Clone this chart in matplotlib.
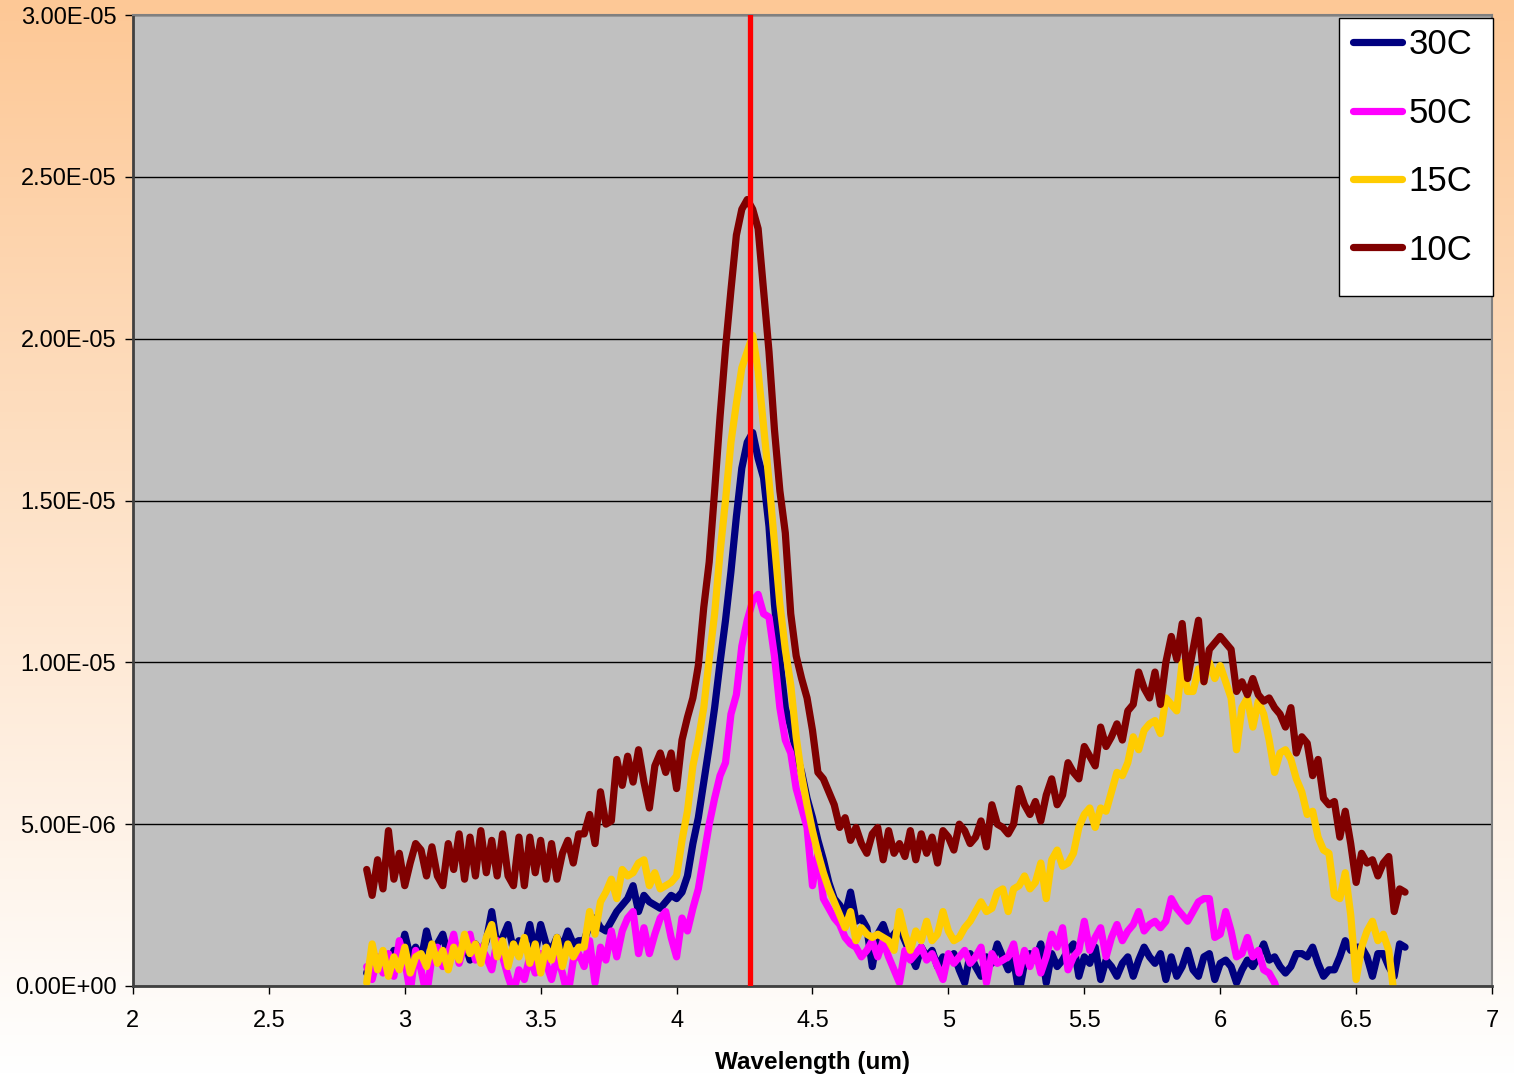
import numpy as np
import matplotlib
matplotlib.use("Agg")
import matplotlib.pyplot as plt
from matplotlib.patches import Rectangle
from matplotlib.lines import Line2D

plt.rcParams["font.family"] = ["Liberation Sans", "DejaVu Sans"]

# wavelength grid (um), 0.02 um steps from 2.86 to 6.68
wavelength = np.round(2.86 + 0.02 * np.arange(192), 2)

# signal values in units of 1e-6 (rows of 0.2 um)
t30 = [
    0.4, 0.9, 0.6, 1.0, 0.7, 1.1, 0.8, 1.6, 0.9, 1.2,
    0.8, 1.7, 1.0, 1.3, 1.6, 0.9, 1.2, 1.0, 1.4, 0.8,
    1.3, 1.0, 1.4, 2.3, 1.2, 1.5, 1.9, 1.1, 1.4, 1.2,
    1.9, 1.0, 1.9, 1.3, 1.1, 1.5, 1.2, 1.7, 1.3, 1.4,
    1.4, 1.9, 2.1, 1.8, 1.7, 2.0, 2.3, 2.5, 2.7, 3.1,
    2.3, 2.8, 2.6, 2.5, 2.4, 2.6, 2.8, 2.7, 2.9, 3.4,
    4.4, 5.2, 6.3, 7.4, 8.6, 10.0, 11.3, 12.8, 14.5, 16.0,
    16.8, 17.1, 16.3, 15.7, 14.2, 11.8, 10.1, 8.6, 8.0, 7.2,
    6.6, 5.8, 5.2, 4.5, 3.9, 3.2, 2.7, 2.5, 2.2, 2.9,
    2.0, 2.1, 1.8, 0.6, 1.6, 1.9, 1.4, 1.6, 1.8, 1.4,
    1.0, 0.6, 1.2, 0.9, 1.1, 0.6, 0.9, 0.8, 1.0, 0.5,
    0.1, 1.0, 0.6, 0.3, 0.9, 0.7, 1.3, 0.9, 0.5, 0.8,
    -0.2, 0.7, 1.0, 0.8, 1.3, 0.1, 1.0, 0.6, 0.8, 1.1,
    1.3, 0.3, 0.9, 0.7, 1.2, 0.2, 0.8, 0.6, 0.3, 0.7,
    0.9, 0.3, 0.8, 1.2, 0.9, 0.7, 1.0, 0.2, 0.9, 0.3,
    0.6, 1.1, 0.5, 0.3, 0.9, 1.0, 0.2, 0.7, 0.8, 0.6,
    0.1, 0.5, 0.8, 0.6, 0.9, 1.3, 0.8, 0.9, 0.6, 0.4,
    0.6, 1.0, 1.0, 0.9, 1.2, 0.7, 0.3, 0.5, 0.5, 0.9,
    1.4, 1.1, 1.2, 1.2, 0.9, 0.3, 1.0, 1.0, 0.6, 0.3,
    1.3, 1.2,
]
t50 = [
    0.6, 0.2, 0.9, 0.4, 1.0, 0.3, 1.4, 0.8, -0.2, 1.1,
    0.5, -0.3, 0.9, 1.2, 0.6, 1.0, 1.6, 0.7, 1.3, 1.6,
    0.8, 1.2, 0.9, 0.5, 1.4, 0.9, 0.3, -0.2, 0.5, 0.2,
    0.9, 0.4, 1.0, 0.7, 0.2, 0.9, 0.4, -0.3, 0.8, 1.0,
    0.6, 1.4, 0.1, 1.2, 0.8, 1.7, 0.9, 1.7, 2.1, 2.3,
    1.0, 1.8, 1.0, 1.6, 2.1, 2.3, 1.5, 0.9, 2.1, 1.7,
    2.4, 3.0, 4.0, 5.0, 5.8, 6.5, 6.9, 8.4, 9.0, 10.5,
    11.3, 11.9, 12.1, 11.5, 11.4, 10.2, 8.6, 7.6, 7.2, 6.1,
    5.5, 4.9, 3.1, 4.1, 2.7, 2.4, 2.1, 1.9, 1.5, 1.3,
    1.2, 0.9, 1.1, 1.4, 0.9, 1.4, 0.9, 0.5, 0.1, 1.1,
    0.8, 1.0, 1.2, 0.8, 1.0, 0.6, 0.2, 1.0, 0.7, 0.9,
    1.1, 0.7, 0.9, 1.2, 0.1, 1.0, 0.7, 0.8, 0.9, 1.3,
    0.4, 1.1, 0.6, 1.1, 0.4, 0.9, 1.6, 1.2, 1.8, 0.5,
    0.9, 1.1, 2.0, 1.1, 1.5, 1.8, 0.9, 1.5, 1.9, 1.4,
    1.7, 1.9, 2.3, 1.7, 1.9, 2.0, 1.8, 2.0, 2.7, 2.4,
    2.2, 2.0, 2.3, 2.6, 2.7, 2.7, 1.5, 1.6, 2.3, 1.7,
    0.9, 1.0, 1.5, 0.9, 1.1, 0.5, 0.4, 0.1, -0.4, -0.8,
    -1.0, -1.2, -1.1, -1.4, -1.3, -1.5, -1.2, -1.6, -1.4, -1.5,
    -1.6, -1.4, -1.7, -1.5, -1.6, -1.8, -1.5, -1.7, -1.6, -1.8,
    -1.7, -1.8,
]
t15 = [
    0.1, 1.3, 0.5, 1.1, 0.3, 0.9, 0.5, 1.2, 0.4, 0.9,
    1.0, 0.6, 1.3, 0.7, 1.1, 0.5, 1.2, 0.8, 1.6, 1.0,
    1.3, 0.7, 1.5, 1.9, 0.9, 1.4, 0.6, 1.3, 0.9, 1.5,
    0.7, 1.3, 0.4, 1.2, 0.8, 1.5, 0.6, 1.3, 0.9, 1.2,
    1.2, 2.3, 1.6, 2.6, 2.9, 3.3, 2.7, 3.6, 3.4, 3.5,
    3.8, 3.9, 3.1, 3.5, 3.0, 3.1, 3.2, 3.4, 4.5, 5.4,
    6.8, 7.6, 8.6, 10.1, 11.5, 13.4, 15.0, 16.8, 18.0, 19.1,
    19.6, 20.1, 19.0, 17.3, 15.6, 13.7, 11.8, 10.4, 9.3, 7.7,
    6.5, 5.6, 4.8, 4.1, 3.5, 3.0, 2.6, 2.2, 1.8, 2.3,
    1.4, 1.8, 1.6, 1.5, 1.6, 1.5, 1.4, 1.1, 2.3, 1.6,
    1.1, 1.7, 1.4, 2.0, 1.4, 1.6, 2.3, 1.7, 1.4, 1.5,
    1.8, 2.0, 2.3, 2.6, 2.3, 2.4, 2.9, 3.0, 2.3, 3.0,
    3.1, 3.4, 3.0, 3.2, 3.8, 2.7, 3.9, 4.2, 3.7, 3.8,
    4.1, 4.9, 5.3, 5.5, 4.9, 5.5, 5.4, 6.0, 6.6, 6.5,
    6.9, 7.7, 7.3, 7.9, 8.1, 8.2, 7.8, 8.9, 8.7, 8.5,
    10.0, 9.1, 9.1, 9.8, 9.4, 10.0, 9.5, 9.9, 9.4, 8.9,
    7.3, 8.6, 8.9, 8.0, 8.8, 8.4, 7.6, 6.6, 7.2, 7.3,
    7.0, 6.4, 6.0, 5.3, 5.4, 4.6, 4.2, 4.1, 2.8, 2.7,
    3.5, 2.2, 0.2, 1.2, 1.7, 2.0, 1.4, 1.6, 1.1, -0.3,
    -0.8, -1.0,
]
t10 = [
    3.6, 2.8, 3.9, 3.0, 4.8, 3.3, 4.1, 3.1, 3.8, 4.4,
    4.2, 3.4, 4.3, 3.4, 3.1, 4.4, 3.6, 4.7, 3.3, 4.6,
    3.4, 4.8, 3.5, 4.5, 3.4, 4.7, 3.4, 3.1, 4.6, 3.1,
    4.6, 3.5, 4.5, 3.3, 4.4, 3.3, 4.1, 4.5, 3.8, 4.7,
    4.7, 5.3, 4.4, 6.0, 5.0, 5.1, 7.0, 6.2, 7.1, 6.3,
    7.3, 6.3, 5.5, 6.8, 7.2, 6.6, 7.2, 6.1, 7.6, 8.3,
    8.9, 9.9, 11.7, 13.1, 15.3, 17.6, 19.7, 21.5, 23.2, 24.0,
    24.3, 24.0, 23.4, 21.5, 19.6, 17.2, 15.3, 14.0, 11.5, 10.2,
    9.5, 8.9, 7.9, 6.6, 6.4, 6.0, 5.6, 4.9, 5.2, 4.5,
    4.9, 4.4, 4.1, 4.7, 4.9, 3.9, 4.8, 4.1, 4.4, 4.0,
    4.8, 3.9, 4.7, 4.1, 4.6, 3.8, 4.8, 4.6, 4.2, 5.0,
    4.8, 4.4, 4.6, 5.1, 4.3, 5.6, 5.0, 4.9, 4.7, 5.0,
    6.1, 5.6, 5.3, 5.7, 5.1, 5.9, 6.4, 5.6, 5.9, 6.9,
    6.6, 6.4, 7.4, 7.1, 6.8, 8.0, 7.4, 7.7, 8.1, 7.6,
    8.5, 8.7, 9.7, 9.2, 8.9, 9.7, 8.7, 10.0, 10.8, 10.1,
    11.2, 9.5, 10.4, 11.3, 9.4, 10.4, 10.6, 10.8, 10.6, 10.4,
    9.1, 9.4, 9.0, 9.5, 9.0, 8.8, 8.9, 8.6, 8.4, 8.0,
    8.6, 7.2, 7.7, 7.5, 6.5, 7.0, 5.8, 5.6, 5.7, 4.6,
    5.4, 4.4, 3.2, 4.1, 3.8, 3.9, 3.4, 3.8, 4.0, 2.3,
    3.0, 2.9,
]

labels = ["30C", "50C", "15C", "10C"]
colors = ["#000080", "#FF00FF", "#FFCC00", "#800000"]
series = [t30, t50, t15, t10]
peak_line = 4.27

fig = plt.figure(figsize=(15.14, 10.77), dpi=100)

# orange-to-white gradient background
bg = fig.add_axes([0, 0, 1, 1], zorder=-10)
top = np.array([253, 200, 150]) / 255.0
bot = np.array([255, 255, 255]) / 255.0
f = np.linspace(0, 1, 256)[:, None]
grad = top[None, :] * (1 - f) + bot[None, :] * f
bg.imshow(grad[:, None, :], aspect="auto", extent=[0, 1, 0, 1])
bg.axis("off")

ax = fig.add_axes([0.0878, 0.0845, 0.8977, 0.9015])
ax.set_facecolor("#C0C0C0")

for vals, c, lab in zip(series, colors, labels):
    ax.plot(wavelength, np.array(vals) * 1e-6, color=c, lw=5.2, label=lab,
            solid_joinstyle="round", solid_capstyle="round")

ax.axvline(peak_line, color="#FF0000", lw=3.8, zorder=5)

ax.set_xlim(2, 7)
ax.set_ylim(0, 3e-5)
ax.set_xticks(np.arange(2, 7.01, 0.5))
ax.set_xticklabels(["2", "2.5", "3", "3.5", "4", "4.5", "5", "5.5", "6", "6.5", "7"])
ax.set_yticks(np.arange(0, 3.01e-5, 0.5e-5))
ax.set_yticklabels(["{:.2E}".format(v) for v in np.arange(0, 3.01e-5, 0.5e-5)])
ax.yaxis.grid(True, color="black", lw=1)
ax.set_axisbelow(True)
ax.tick_params(axis="both", direction="out", length=6, width=1, labelsize=17)
ax.tick_params(axis="x", pad=11)
ax.tick_params(axis="y", pad=6)

for side in ["top", "right"]:
    ax.spines[side].set_color("#808080")
    ax.spines[side].set_linewidth(1.5)
for side in ["left", "bottom"]:
    ax.spines[side].set_color("#404040")
    ax.spines[side].set_linewidth(2)

ax.set_xlabel("Wavelength (um)", fontsize=17.5, fontweight="bold", labelpad=14)

# legend box
fig.patches.append(Rectangle((1339 / 1514, 1 - 296 / 1077), 154 / 1514, 278 / 1077,
                             transform=fig.transFigure, facecolor="white",
                             edgecolor="black", lw=1, zorder=10))
handles = [Line2D([], [], color=c, lw=5.2, solid_capstyle="round") for c in colors]
leg = fig.legend(handles, labels, loc="upper left",
                 bbox_to_anchor=(1329 / 1514, 1 - 4 / 1077),
                 frameon=False, fontsize=25, handlelength=1.4,
                 handletextpad=0.2, labelspacing=1.02, borderpad=0.2)
leg.set_zorder(11)

fig.savefig("out.png", dpi=100)
